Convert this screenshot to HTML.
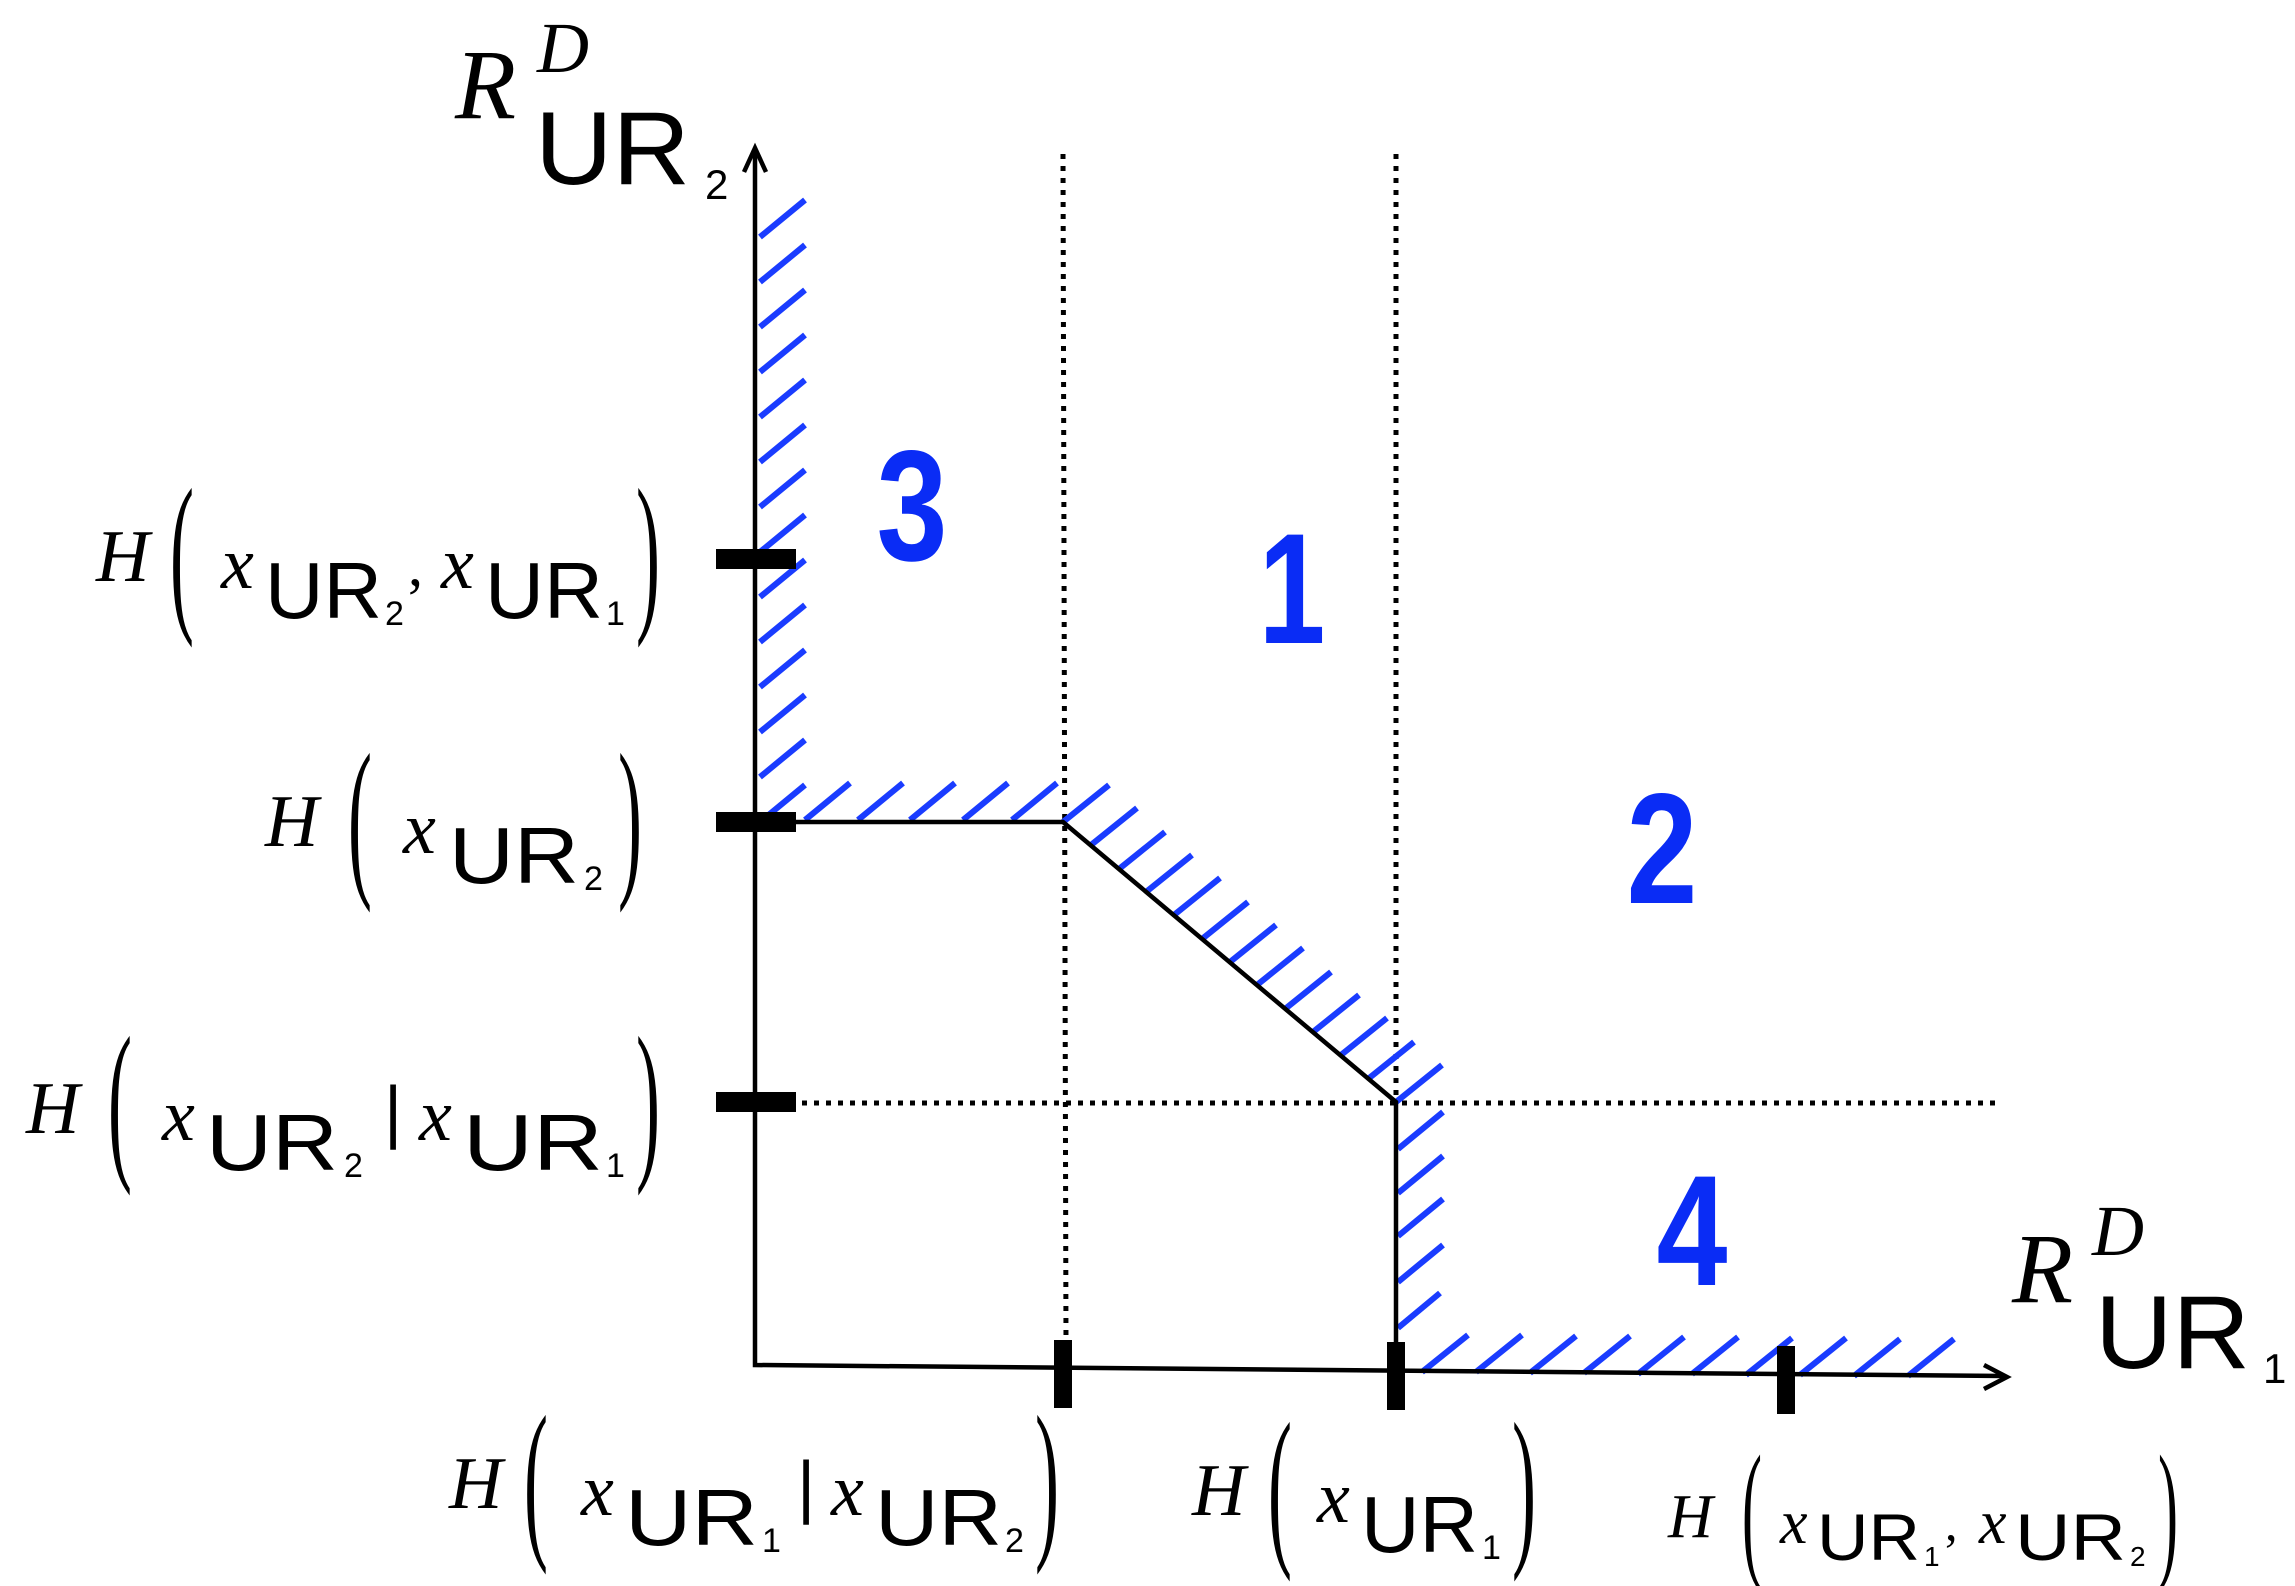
<!DOCTYPE html>
<html><head><meta charset="utf-8"><style>html,body{margin:0;padding:0;background:#fff}svg{display:block}
.s{font-family:"Liberation Serif",serif;font-style:italic}
.a{font-family:"Liberation Sans",sans-serif}
.n{font-family:"Liberation Sans",sans-serif;font-weight:bold;fill:#0a2cf5}
.h line{stroke:#1a3cff;stroke-width:6}
</style></head><body>
<svg width="2295" height="1586" viewBox="0 0 2295 1586" xmlns="http://www.w3.org/2000/svg">
<g stroke="#000" stroke-width="5" stroke-dasharray="5 7" fill="none">
<line x1="1063" y1="154" x2="1066" y2="1345"/>
<line x1="1396" y1="154" x2="1396" y2="1102"/>
<line x1="790" y1="1103" x2="1995" y2="1103"/>
</g>
<g class="h">
<line x1="760" y1="822" x2="805" y2="785"/><line x1="760" y1="777" x2="805" y2="740"/><line x1="760" y1="732" x2="805" y2="695"/><line x1="760" y1="687" x2="805" y2="650"/><line x1="760" y1="642" x2="805" y2="605"/><line x1="760" y1="597" x2="805" y2="560"/><line x1="760" y1="552" x2="805" y2="515"/><line x1="760" y1="507" x2="805" y2="470"/><line x1="760" y1="462" x2="805" y2="425"/><line x1="760" y1="417" x2="805" y2="380"/><line x1="760" y1="372" x2="805" y2="335"/><line x1="760" y1="327" x2="805" y2="290"/><line x1="760" y1="282" x2="805" y2="245"/><line x1="760" y1="237" x2="805" y2="200"/>
<line x1="805" y1="820" x2="850" y2="783"/><line x1="858" y1="820" x2="903" y2="783"/><line x1="910" y1="820" x2="955" y2="783"/><line x1="963" y1="820" x2="1008" y2="783"/><line x1="1012" y1="820" x2="1057" y2="783"/>
<line x1="1063" y1="822" x2="1109" y2="785"/><line x1="1091" y1="845" x2="1137" y2="808"/><line x1="1119" y1="869" x2="1165" y2="832"/><line x1="1146" y1="892" x2="1192" y2="855"/><line x1="1174" y1="915" x2="1220" y2="878"/><line x1="1202" y1="939" x2="1248" y2="902"/><line x1="1230" y1="962" x2="1276" y2="925"/><line x1="1257" y1="985" x2="1303" y2="948"/><line x1="1285" y1="1009" x2="1331" y2="972"/><line x1="1313" y1="1032" x2="1359" y2="995"/><line x1="1341" y1="1055" x2="1387" y2="1018"/><line x1="1368" y1="1079" x2="1414" y2="1042"/><line x1="1396" y1="1102" x2="1442" y2="1065"/>
<line x1="1398" y1="1149" x2="1443" y2="1112"/><line x1="1398" y1="1193" x2="1443" y2="1156"/><line x1="1398" y1="1236" x2="1443" y2="1199"/><line x1="1398" y1="1282" x2="1443" y2="1245"/><line x1="1398" y1="1328" x2="1440" y2="1293"/>
<line x1="1422" y1="1372" x2="1468" y2="1335"/><line x1="1476" y1="1372" x2="1522" y2="1335"/><line x1="1530" y1="1373" x2="1576" y2="1336"/><line x1="1584" y1="1373" x2="1630" y2="1336"/><line x1="1638" y1="1374" x2="1684" y2="1337"/><line x1="1692" y1="1374" x2="1738" y2="1337"/><line x1="1746" y1="1375" x2="1792" y2="1338"/><line x1="1800" y1="1375" x2="1846" y2="1338"/><line x1="1854" y1="1376" x2="1900" y2="1339"/><line x1="1908" y1="1376" x2="1954" y2="1339"/>
</g>
<g stroke="#000" stroke-width="4.5" fill="none">
<polyline points="755,150 755,1365 2005,1376"/>
<polyline points="744,172 755,148 766,172"/>
<polyline points="1984,1365 2007,1377 1984,1389"/>
<polyline points="755,822 1063,822 1396,1102 1396,1370"/>
</g>
<g fill="#000">
<rect x="716" y="549" width="80" height="20"/>
<rect x="716" y="812" width="80" height="20"/>
<rect x="716" y="1092" width="80" height="20"/>
<rect x="1054" y="1340" width="18" height="68"/>
<rect x="1387" y="1342" width="18" height="68"/>
<rect x="1777" y="1346" width="18" height="68"/>
</g>
<g class="n" font-size="150" text-anchor="middle">
<text transform="translate(912,560) scale(0.85,1.05)">3</text>
<text transform="translate(1292,643) scale(0.8,1.05)">1</text>
<text transform="translate(1662,903) scale(0.85,1.05)">2</text>
<text transform="translate(1692,1285) scale(0.85,1.05)">4</text>
</g>
<text class="s" x="455" y="118" font-size="100">R</text>
<text class="s" x="537" y="72" font-size="72">D</text>
<text class="a" x="535" y="184" font-size="104" textLength="155" lengthAdjust="spacingAndGlyphs">UR</text>
<text class="a" x="705" y="199" font-size="42">2</text>
<text class="s" x="2012" y="1302" font-size="100">R</text>
<text class="s" x="2092" y="1255" font-size="72">D</text>
<text class="a" x="2095" y="1368" font-size="104" textLength="155" lengthAdjust="spacingAndGlyphs">UR</text>
<text class="a" x="2263" y="1383" font-size="42">1</text>
<g font-family="Liberation Serif,serif" font-size="80">
<text class="s" x="96" y="581" font-size="74">H</text>
<text x="0" y="0" transform="translate(170,610) scale(0.9,2.2)">(</text>
<text class="s" x="221" y="588" font-size="74">x</text>
<text class="a" x="265" y="618" font-size="80" textLength="117" lengthAdjust="spacingAndGlyphs">UR</text>
<text class="a" x="385" y="625" font-size="34">2</text>
<text x="408" y="585" font-size="60">,</text>
<text class="s" x="441" y="588" font-size="74">x</text>
<text class="a" x="485" y="618" font-size="80" textLength="118" lengthAdjust="spacingAndGlyphs">UR</text>
<text class="a" x="606" y="625" font-size="34">1</text>
<text x="0" y="0" transform="translate(636,610) scale(0.9,2.2)">)</text>
<text class="s" x="265" y="846" font-size="74">H</text>
<text x="0" y="0" transform="translate(348,875) scale(0.9,2.2)">(</text>
<text class="s" x="403" y="853" font-size="74">x</text>
<text class="a" x="449" y="883" font-size="80" textLength="130" lengthAdjust="spacingAndGlyphs">UR</text>
<text class="a" x="584" y="890" font-size="34">2</text>
<text x="0" y="0" transform="translate(618,875) scale(0.9,2.2)">)</text>
<text class="s" x="26" y="1133" font-size="74">H</text>
<text x="0" y="0" transform="translate(108,1158) scale(0.9,2.2)">(</text>
<text class="s" x="162" y="1140" font-size="74">x</text>
<text class="a" x="206" y="1170" font-size="80" textLength="132" lengthAdjust="spacingAndGlyphs">UR</text>
<text class="a" x="344" y="1177" font-size="34">2</text>
<text class="a" x="384" y="1135" font-size="70">|</text>
<text class="s" x="419" y="1140" font-size="74">x</text>
<text class="a" x="463" y="1170" font-size="80" textLength="140" lengthAdjust="spacingAndGlyphs">UR</text>
<text class="a" x="606" y="1177" font-size="34">1</text>
<text x="0" y="0" transform="translate(636,1158) scale(0.9,2.2)">)</text>
<text class="s" x="449" y="1508" font-size="74">H</text>
<text x="0" y="0" transform="translate(524,1537) scale(0.9,2.2)">(</text>
<text class="s" x="581" y="1515" font-size="74">x</text>
<text class="a" x="625" y="1545" font-size="80" textLength="133" lengthAdjust="spacingAndGlyphs">UR</text>
<text class="a" x="762" y="1552" font-size="34">1</text>
<text class="a" x="797" y="1510" font-size="70">|</text>
<text class="s" x="831" y="1515" font-size="74">x</text>
<text class="a" x="875" y="1545" font-size="80" textLength="127" lengthAdjust="spacingAndGlyphs">UR</text>
<text class="a" x="1005" y="1552" font-size="34">2</text>
<text x="0" y="0" transform="translate(1035,1537) scale(0.9,2.2)">)</text>
<text class="s" x="1192" y="1515" font-size="74">H</text>
<text x="0" y="0" transform="translate(1268,1544) scale(0.9,2.2)">(</text>
<text class="s" x="1317" y="1522" font-size="74">x</text>
<text class="a" x="1361" y="1552" font-size="80" textLength="117" lengthAdjust="spacingAndGlyphs">UR</text>
<text class="a" x="1482" y="1559" font-size="34">1</text>
<text x="0" y="0" transform="translate(1512,1544) scale(0.9,2.2)">)</text>
<text class="s" x="1668" y="1537" font-size="62">H</text>
<text x="0" y="0" transform="translate(1742,1560) scale(0.75,1.9)">(</text>
<text class="s" x="1780" y="1543" font-size="62">x</text>
<text class="a" x="1817" y="1560" font-size="66" textLength="103" lengthAdjust="spacingAndGlyphs">UR</text>
<text class="a" x="1924" y="1566" font-size="28">1</text>
<text x="1945" y="1540" font-size="50">,</text>
<text class="s" x="1979" y="1543" font-size="62">x</text>
<text class="a" x="2015" y="1560" font-size="66" textLength="111" lengthAdjust="spacingAndGlyphs">UR</text>
<text class="a" x="2130" y="1566" font-size="28">2</text>
<text x="0" y="0" transform="translate(2158,1560) scale(0.75,1.9)">)</text>
</g>
</svg>
</body></html>
